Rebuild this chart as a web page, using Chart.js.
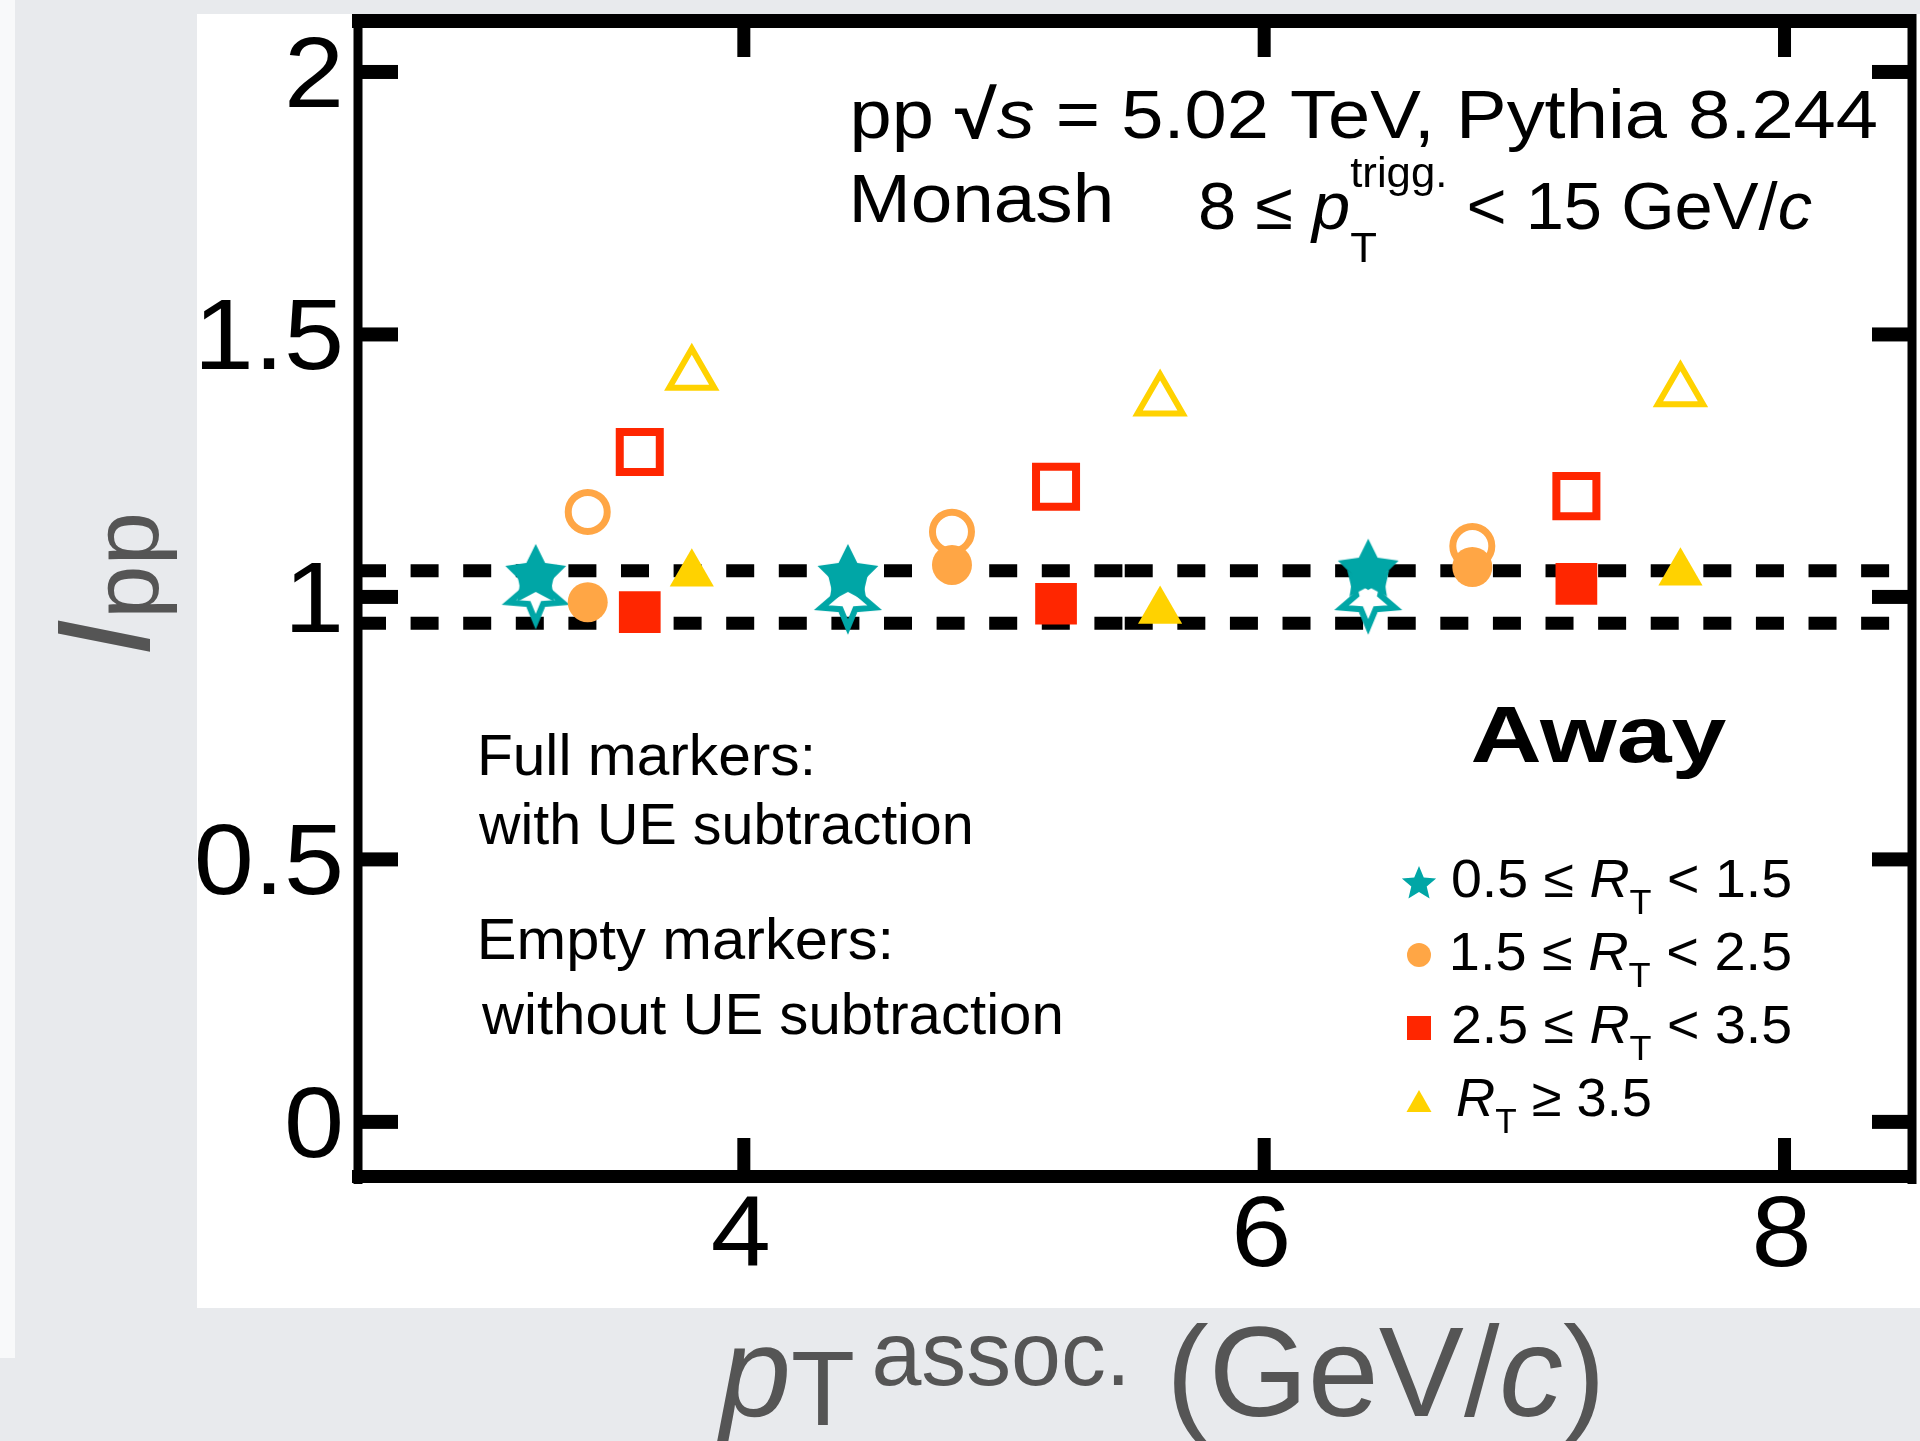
<!DOCTYPE html>
<html lang="en">
<head>
    <meta charset="UTF-8">
    <title>Ipp away side</title>
    <script src="https://cdn.jsdelivr.net/npm/chart.js@4.4.1/dist/chart.umd.min.js"></script>
    <style>
        html, body { margin: 0; padding: 0; }
        body { width: 1920px; height: 1441px; background: #e8eaed; position: relative; overflow: hidden; }
        #strip { position: absolute; left: 0; top: 0; width: 15px; height: 1358px; background: #f8f9fa; }
        #panel { position: absolute; left: 197px; top: 14px; width: 1723px; height: 1294px; background: #fff; }
        #chart { position: absolute; left: 0; top: 0; }
    </style>
</head>
<body>
    <div id="strip"></div>
    <div id="panel"></div>
    <canvas id="chart" width="1920" height="1441"></canvas>

    <script>
        // pT assoc. positions of each R_T class
        const xStar = [3.2, 4.4, 6.4];
        const xCircle = [3.4, 4.8, 6.8];
        const xSquare = [3.6, 5.2, 7.2];
        const xTriangle = [3.8, 5.6, 7.6];

        // Ipp, full markers = with UE subtraction, empty = without
        const starFull = [1.04, 1.04, 1.05];
        const starEmpty = [1.006, 0.996, 0.996];
        const circleFull = [0.99, 1.061, 1.057];
        const circleEmpty = [1.162, 1.124, 1.097];
        const squareFull = [0.971, 0.987, 1.025];
        const squareEmpty = [1.276, 1.21, 1.192];
        const triangleFull = [1.044, 0.973, 1.046];
        const triangleEmpty = [1.423, 1.374, 1.392];

        const refLines = [1.05, 0.95];
        const xRange = [2.517, 8.49];
        const yRange = [-0.105, 2.099];
        const dashBreak = 5.464;

        const xTicks = [4, 6, 8];
        const xTickLabels = ['4', '6', '8'];
        const yTicks = [0, 0.5, 1, 1.5, 2];
        const yTickLabels = ['0', '0.5', '1', '1.5', '2'];

        const legendLow = ['0.5 ≤ ', '1.5 ≤ ', '2.5 ≤ ', ''];
        const legendHigh = [' < 1.5', ' < 2.5', ' < 3.5', ' ≥ 3.5'];

        const TEAL = '#00a6a6', ORANGE = '#ffa645', RED = '#ff2600', YELLOW = '#ffd200';
        const FONT = '"Liberation Sans", Arial, Helvetica, sans-serif';

        function pts(xs, ys) {
            return xs.map((x, i) => ({ x: x, y: ys[i] }));
        }

        function starPath(g, cx, cy, R, inner) {
            g.beginPath();
            for (let i = 0; i < 10; i++) {
                const r = i % 2 ? R * inner : R;
                const a = -Math.PI / 2 + i * Math.PI / 5;
                g.lineTo(cx + r * Math.cos(a), cy + r * Math.sin(a));
            }
            g.closePath();
        }

        function starCanvas(R, inner, color, filled, lineW, flip) {
            const pad = filled ? 2 : lineW * 2 + 2;
            const size = Math.ceil(2 * (R + pad));
            const c = document.createElement('canvas');
            c.width = c.height = size;
            const g = c.getContext('2d');
            g.translate(size / 2, size / 2);
            if (flip) g.rotate(Math.PI);
            starPath(g, 0, 0, R, inner);
            if (filled) {
                g.fillStyle = color;
                g.fill();
            } else {
                g.strokeStyle = color;
                g.lineWidth = lineW;
                g.stroke();
            }
            return c;
        }

        function fontOf(p) {
            return (p.it ? 'italic ' : '') + (p.bold ? 'bold ' : '') + p.size + 'px ' + FONT;
        }

        // draws a run of text pieces, stretched so the ink spans x0..x1
        function richText(ctx, parts, x0, x1, base, color) {
            ctx.save();
            ctx.fillStyle = color;
            ctx.textBaseline = 'alphabetic';
            ctx.textAlign = 'left';
            let cur = 0, inkL = 0, inkR = 0;
            parts.forEach((p, i) => {
                ctx.font = fontOf(p);
                const m = ctx.measureText(p.t);
                p.x = cur;
                if (i === 0) inkL = -m.actualBoundingBoxLeft;
                inkR = Math.max(inkR, cur + m.actualBoundingBoxRight);
                if (!p.noAdv) cur += m.width;
            });
            const k = (x1 - x0) / (inkR - inkL);
            ctx.translate(x0, base);
            ctx.scale(k, 1);
            ctx.translate(-inkL, 0);
            parts.forEach(p => {
                ctx.font = fontOf(p);
                ctx.fillText(p.t, p.x, p.dy || 0);
            });
            ctx.restore();
        }

        const framePlugin = {
            id: 'frame',
            afterDatasetsDraw(chart) {
                const ctx = chart.ctx;
                const { left, right, top, bottom } = chart.chartArea;
                const xs = chart.scales.x, ys = chart.scales.y;
                ctx.save();
                ctx.fillStyle = '#000';

                // frame
                ctx.fillRect(left - 6, top - 6, 1920 - left, 14);
                ctx.fillRect(left - 6, bottom - 7, right - left + 10, 13);
                ctx.fillRect(left - 4.5, top - 6, 9, bottom - top + 13);
                ctx.fillRect(right - 4.5, top - 6, 9, bottom - top + 13);

                // inward ticks
                yTicks.forEach(v => {
                    const y = ys.getPixelForValue(v);
                    ctx.fillRect(left, y - 7, 40, 14);
                    ctx.fillRect(right - 40, y - 7, 40, 14);
                });
                xTicks.forEach(v => {
                    const x = xs.getPixelForValue(v);
                    ctx.fillRect(x - 6.5, bottom - 39, 13, 39);
                    ctx.fillRect(x - 6.5, top, 13, 37);
                });

                // tick labels
                ctx.font = '100px ' + FONT;
                ctx.textBaseline = 'alphabetic';
                yTicks.forEach((v, i) => {
                    const y = ys.getPixelForValue(v);
                    ctx.save();
                    ctx.translate(344, y + 35);
                    ctx.scale(1.08, 1);
                    ctx.textAlign = 'right';
                    ctx.fillText(yTickLabels[i], 0, 0);
                    ctx.restore();
                });
                xTicks.forEach((v, i) => {
                    const x = xs.getPixelForValue(v);
                    ctx.save();
                    ctx.translate(x - 3, 1266);
                    ctx.scale(1.08, 1);
                    ctx.textAlign = 'center';
                    ctx.fillText(xTickLabels[i], 0, 0);
                    ctx.restore();
                });
                ctx.restore();

                // header
                richText(ctx, [
                    { t: 'pp ', size: 68 },
                    { t: '√', size: 68, bold: true },
                    { t: 's', size: 68, it: true },
                    { t: ' = 5.02 TeV, Pythia 8.244', size: 68 }
                ], 854, 1876, 138, '#000');
                richText(ctx, [{ t: 'Monash', size: 68 }], 854, 1110, 222, '#000');
                richText(ctx, [
                    { t: '8 ≤ ', size: 66 },
                    { t: 'p', size: 66, it: true },
                    { t: 'T', size: 42, dy: 33, noAdv: true },
                    { t: 'trigg.', size: 42, dy: -42 },
                    { t: ' < 15 GeV/', size: 66 },
                    { t: 'c', size: 66, it: true }
                ], 1200, 1812, 229, '#000');

                // notes
                richText(ctx, [{ t: 'Full markers:', size: 57 }], 481, 811, 775, '#000');
                richText(ctx, [{ t: 'with UE subtraction', size: 57 }], 478, 970, 844, '#000');
                richText(ctx, [{ t: 'Empty markers:', size: 57 }], 481, 889, 959, '#000');
                richText(ctx, [{ t: 'without UE subtraction', size: 57 }], 481, 1060, 1034, '#000');
                richText(ctx, [{ t: 'Away', size: 80, bold: true }], 1473, 1727, 762, '#000');

                // legend
                const colors = [TEAL, ORANGE, RED, YELLOW];
                for (let i = 0; i < 4; i++) {
                    const base = 897 + i * 73;
                    const mx = 1419, my = base - 15;
                    ctx.save();
                    ctx.fillStyle = colors[i];
                    ctx.beginPath();
                    if (i === 0) {
                        starPath(ctx, mx, my + 2, 18, 0.45);
                    } else if (i === 1) {
                        ctx.arc(mx, my, 12, 0, Math.PI * 2);
                    } else if (i === 2) {
                        ctx.rect(mx - 12, my - 12, 24, 24);
                    } else {
                        ctx.moveTo(mx, my - 11);
                        ctx.lineTo(mx + 12.5, my + 11);
                        ctx.lineTo(mx - 12.5, my + 11);
                        ctx.closePath();
                    }
                    ctx.fill();
                    ctx.restore();
                    const parts = [];
                    if (legendLow[i]) parts.push({ t: legendLow[i], size: 54 });
                    parts.push({ t: 'R', size: 54, it: true });
                    parts.push({ t: 'T', size: 35, dy: 17 });
                    parts.push({ t: legendHigh[i], size: 54 });
                    if (i < 3) richText(ctx, parts, 1453, 1790, base, '#000');
                    else richText(ctx, parts, 1457, 1650, base, '#000');
                }

                // axis titles
                const grey = '#555555';
                ctx.save();
                ctx.translate(150, 652);
                ctx.rotate(-Math.PI / 2);
                richText(ctx, [
                    { t: 'I', size: 133, it: true },
                    { t: 'pp', size: 93, dy: 8 }
                ], 0, 136, 0, grey);
                ctx.restore();
                richText(ctx, [
                    { t: 'p', size: 128, it: true },
                    { t: 'T', size: 105, dy: 9 },
                    { t: ' ', size: 60 },
                    { t: 'assoc.', size: 90, dy: -31 },
                    { t: ' (GeV/', size: 128 },
                    { t: 'c', size: 128, it: true },
                    { t: ')', size: 128 }
                ], 716, 1598, 1416, grey);
            }
        };

        function markerSet(data, color, style, radius, open, lineW) {
            return {
                data: data,
                pointStyle: style,
                pointRadius: radius,
                pointBackgroundColor: open ? 'rgba(0,0,0,0)' : color,
                pointBorderColor: color,
                pointBorderWidth: open ? lineW : 0,
                showLine: false,
                clip: false
            };
        }

        function dashSet(x0, x1, y) {
            return {
                data: [{ x: x0, y: y }, { x: x1, y: y }],
                showLine: true,
                borderColor: '#000',
                borderWidth: 13,
                borderDash: [28, 24.6],
                borderCapStyle: 'butt',
                pointRadius: 0,
                clip: false
            };
        }

        const fullStar = starCanvas(32, 0.5, TEAL, true, 0, false);
        const openStar = starCanvas(28, 0.45, TEAL, false, 6, true);

        const datasets = [
            markerSet(pts(xStar, starFull), TEAL, fullStar, 32, false),
            markerSet(pts(xCircle, circleFull), ORANGE, 'circle', 20, false),
            markerSet(pts(xSquare, squareFull), RED, 'rect', 29.5, false),
            markerSet(pts(xTriangle, triangleFull), YELLOW, 'triangle', 25.5, false),
            markerSet(pts(xStar, starEmpty), TEAL, openStar, 28, true, 6),
            markerSet(pts(xCircle, circleEmpty), ORANGE, 'circle', 19.5, true, 7),
            markerSet(pts(xSquare, squareEmpty), RED, 'rect', 28.3, true, 8),
            markerSet(pts(xTriangle, triangleEmpty), YELLOW, 'triangle', 26, true, 6)
        ];
        refLines.forEach(y => {
            datasets.push(dashSet(xRange[0], dashBreak, y));
            datasets.push(dashSet(dashBreak, xRange[1], y));
        });

        new Chart(document.getElementById('chart'), {
            type: 'scatter',
            data: { datasets: datasets },
            options: {
                responsive: false,
                animation: false,
                layout: { autoPadding: false, padding: { left: 358, right: 8, top: 20, bottom: 264 } },
                plugins: {
                    legend: { display: false },
                    tooltip: { enabled: false }
                },
                scales: {
                    x: { type: 'linear', min: xRange[0], max: xRange[1], display: false },
                    y: { type: 'linear', min: yRange[0], max: yRange[1], display: false }
                }
            },
            plugins: [framePlugin]
        });
    </script>
</body>
</html>
